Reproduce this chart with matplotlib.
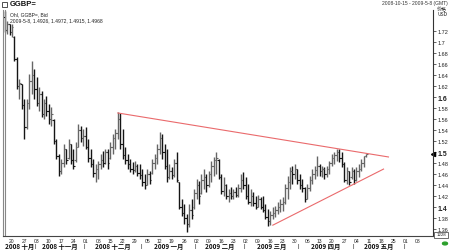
import numpy as np
import pandas as pd
import matplotlib
matplotlib.use('Agg')
import matplotlib.pyplot as plt
from matplotlib.transforms import blended_transform_factory

plt.rcParams['font.family'] = ['Liberation Sans', 'Noto Sans CJK SC', 'DejaVu Sans']

# ---------------- data ----------------
start_date = '2008-10-15'
end_date = '2009-05-08'

high = [1.756,1.738,1.733,1.733,1.711,1.673,1.633,1.624,1.596,1.596,
        1.642,1.665,1.651,1.636,1.618,1.611,1.596,1.602,1.587,1.582,
        1.560,1.524,1.496,1.487,1.514,1.505,1.524,1.515,1.505,1.518,
        1.551,1.547,1.542,1.545,1.524,1.505,1.487,1.478,1.484,1.496,
        1.502,1.505,1.505,1.518,1.533,1.542,1.573,1.571,1.542,1.509,
        1.496,1.487,1.482,1.484,1.478,1.478,1.469,1.460,1.469,1.465,
        1.487,1.496,1.514,1.536,1.533,1.514,1.505,1.478,1.473,1.487,
        1.500,1.445,1.414,1.405,1.387,1.405,1.414,1.433,1.451,1.447,
        1.460,1.469,1.460,1.465,1.484,1.491,1.500,1.487,1.460,1.455,
        1.442,1.433,1.436,1.433,1.436,1.442,1.460,1.464,1.455,1.442,
        1.433,1.427,1.420,1.422,1.418,1.420,1.405,1.396,1.393,1.400,
        1.402,1.409,1.415,1.418,1.442,1.456,1.473,1.475,1.478,1.469,
        1.460,1.451,1.436,1.442,1.456,1.469,1.475,1.493,1.478,1.475,
        1.473,1.475,1.484,1.496,1.500,1.505,1.505,1.500,1.482,1.473,
        1.465,1.473,1.469,1.473,1.478,1.487,1.493,1.4972]

low = [1.718,1.715,1.713,1.709,1.665,1.615,1.596,1.578,1.524,1.542,
       1.578,1.605,1.596,1.584,1.575,1.564,1.560,1.565,1.551,1.547,
       1.515,1.487,1.456,1.460,1.473,1.478,1.487,1.478,1.469,1.482,
       1.509,1.518,1.511,1.505,1.482,1.473,1.455,1.445,1.451,1.469,
       1.473,1.478,1.469,1.487,1.496,1.505,1.524,1.505,1.487,1.478,
       1.469,1.464,1.460,1.464,1.456,1.451,1.438,1.433,1.440,1.442,
       1.460,1.469,1.478,1.496,1.487,1.469,1.445,1.451,1.451,1.455,
       1.445,1.396,1.384,1.369,1.355,1.364,1.378,1.396,1.414,1.405,
       1.424,1.433,1.427,1.436,1.445,1.456,1.460,1.451,1.424,1.420,
       1.414,1.409,1.414,1.414,1.418,1.418,1.427,1.433,1.414,1.405,
       1.402,1.402,1.396,1.400,1.396,1.391,1.378,1.365,1.367,1.378,
       1.382,1.387,1.391,1.393,1.405,1.415,1.433,1.442,1.451,1.442,
       1.433,1.427,1.409,1.415,1.429,1.442,1.451,1.456,1.456,1.455,
       1.451,1.455,1.460,1.475,1.478,1.484,1.482,1.473,1.445,1.442,
       1.440,1.451,1.442,1.447,1.455,1.465,1.473,1.4915]

opens = [1.745,1.722,1.733,1.718,1.710,1.670,1.620,1.624,1.585,1.545,
         1.590,1.630,1.640,1.615,1.590,1.605,1.570,1.590,1.575,1.560,
         1.558,1.520,1.492,1.465,1.480,1.505,1.490,1.515,1.485,1.485,
         1.510,1.540,1.525,1.530,1.510,1.490,1.478,1.462,1.470,1.478,
         1.485,1.480,1.500,1.490,1.510,1.525,1.535,1.560,1.515,1.495,
         1.485,1.478,1.470,1.468,1.475,1.462,1.458,1.445,1.440,1.460,
         1.462,1.480,1.490,1.505,1.525,1.500,1.475,1.455,1.465,1.458,
         1.480,1.445,1.400,1.390,1.380,1.370,1.395,1.400,1.425,1.440,
         1.426,1.450,1.455,1.440,1.460,1.475,1.485,1.485,1.455,1.430,
         1.440,1.420,1.425,1.420,1.428,1.422,1.435,1.450,1.440,1.420,
         1.410,1.420,1.408,1.400,1.415,1.400,1.395,1.382,1.375,1.385,
         1.390,1.395,1.400,1.405,1.410,1.435,1.445,1.465,1.460,1.470,
         1.450,1.440,1.435,1.415,1.435,1.450,1.460,1.468,1.475,1.465,
         1.470,1.460,1.470,1.480,1.490,1.495,1.500,1.490,1.478,1.450,
         1.465,1.455,1.465,1.450,1.465,1.470,1.480,1.4926]

closes = [1.722,1.733,1.718,1.728,1.670,1.620,1.625,1.585,1.545,1.590,
          1.630,1.640,1.615,1.590,1.605,1.570,1.590,1.575,1.560,1.570,
          1.520,1.492,1.465,1.480,1.505,1.485,1.515,1.485,1.475,1.510,
          1.540,1.525,1.530,1.510,1.490,1.478,1.462,1.470,1.478,1.485,
          1.480,1.500,1.480,1.510,1.525,1.535,1.560,1.515,1.495,1.485,
          1.478,1.470,1.468,1.475,1.462,1.458,1.445,1.440,1.460,1.450,
          1.480,1.490,1.505,1.525,1.500,1.475,1.455,1.465,1.458,1.480,
          1.450,1.400,1.390,1.380,1.370,1.395,1.385,1.425,1.440,1.420,
          1.450,1.455,1.440,1.460,1.475,1.485,1.490,1.455,1.430,1.440,
          1.420,1.425,1.420,1.428,1.422,1.435,1.450,1.440,1.420,1.410,
          1.420,1.408,1.400,1.415,1.400,1.395,1.382,1.375,1.385,1.390,
          1.395,1.400,1.405,1.410,1.435,1.445,1.465,1.460,1.470,1.450,
          1.440,1.435,1.415,1.435,1.450,1.460,1.468,1.475,1.465,1.470,
          1.460,1.470,1.480,1.490,1.495,1.500,1.490,1.478,1.450,1.465,
          1.445,1.465,1.450,1.465,1.470,1.480,1.4926,1.4968]

# trend lines (date, price)
upper_dates = ['2008-12-18', '2009-05-21']
upper_prices = [1.571, 1.491]
lower_dates = ['2009-03-17', '2009-05-19']
lower_prices = [1.367, 1.469]

y_ticks = [1.36,1.38,1.40,1.42,1.44,1.46,1.48,1.50,1.52,1.54,1.56,1.58,
           1.60,1.62,1.64,1.66,1.68,1.70,1.72]
y_labels = ['1.36','1.38','1.4','1.42','1.44','1.46','1.48','1.5','1.52','1.54',
            '1.56','1.58','1.6','1.62','1.64','1.66','1.68','1.7','1.72']
month_labels = ['2008 十月','2008 十一月','2008 十二月','2009 一月',
                '2009 二月','2009 三月','2009 四月','2009 五月']
title = 'GGBP='
subtitle1 = 'Ohl, GGBP=, Bid'
subtitle2 = '2009-5-8, 1.4926, 1.4972, 1.4915, 1.4968'
range_text = '2008-10-15 - 2009-5-8 (GMT)'
axis_unit = '价格\nUSD'
box_text = '1228'

# ---------------- positions ----------------
def bpos(d):
    return float(np.busday_count(start_date, pd.Timestamp(d).strftime('%Y-%m-%d')))

n = len(high)
xs = np.arange(n)
o = np.array(opens); c = np.array(closes)
up = c >= o

W, H = 450, 251
fig = plt.figure(figsize=(W/100, H/100), dpi=100)
fig.patch.set_facecolor('white')
ax = fig.add_axes([3/W, 1-237/H, 430/W, 226/H])
ax.set_xlim(-0.65, 174.1)
ax.set_ylim(1.3473, 1.7582)

cols = np.where(up, '#666666', '#151515')
ax.vlines(xs, low, high, colors=cols, linewidth=1.0)
ax.hlines(o, xs-0.6, xs, colors=cols, linewidth=0.8)
ax.hlines(c, xs, xs+0.6, colors=cols, linewidth=0.8)

ax.plot([bpos(d) for d in upper_dates], upper_prices, color='#ea6a6c', lw=0.8)
ax.plot([bpos(d) for d in lower_dates], lower_prices, color='#ea6a6c', lw=0.8)

# spines
ax.spines['top'].set_visible(False)
ax.spines['left'].set_color('#888888'); ax.spines['left'].set_linewidth(0.8)
ax.spines['bottom'].set_color('#444444'); ax.spines['bottom'].set_linewidth(0.8)
ax.spines['right'].set_color('#333333'); ax.spines['right'].set_linewidth(0.8)
ax.axvline(-0.65 + 2/2.46, color='#888888', lw=0.8)

# y axis on right
ax.yaxis.tick_right()
ax.set_yticks(y_ticks)
ax.set_yticklabels(y_labels)
ax.tick_params(axis='y', which='both', length=2, width=0.5, pad=1.5,
               labelsize=4, colors='#222222', direction='out')
for lbl in ax.get_yticklabels():
    if lbl.get_text() in ('1.6', '1.4', '1.5'):
        lbl.set_fontweight('bold'); lbl.set_fontsize(5)
ax.plot([1.0], [closes[-1]], marker='<', color='black', markersize=3,
        transform=blended_transform_factory(ax.transAxes, ax.transData), clip_on=False)

# x ticks: weekly Mondays
mondays = pd.date_range('2008-10-20', '2009-06-08', freq='7D')
ax.set_xticks([bpos(d) for d in mondays])
ax.set_xticklabels([d.strftime('%d') for d in mondays])
ax.tick_params(axis='x', length=0, pad=1.2, labelsize=3.6, colors='#222222')

# month labels and separators
trans = blended_transform_factory(ax.transData, ax.transAxes)
month_starts = pd.date_range('2008-10-01', '2009-06-01', freq='MS')
for k, lab in enumerate(month_labels):
    a = max(bpos(month_starts[k]) - 0.5, -0.65)
    b = bpos(month_starts[k+1]) - 0.5
    ax.text((a+b)/2, -0.042, lab, transform=trans, ha='center', va='center',
            fontsize=4.6, fontweight='bold', color='#111111',
            family=['Noto Sans CJK SC', 'DejaVu Sans'])
for ms in month_starts[1:]:
    ax.text(bpos(ms) - 0.5, -0.042, '|', transform=trans, ha='center', va='center',
            fontsize=4, color='#111111')

# header
def ftext(px, py, s, **kw):
    fig.text(px/W, 1-py/H, s, **kw)

fig.patches.append(plt.Rectangle((2/W, 1-8/H), 5/W, 5/H, transform=fig.transFigure,
                                 fill=False, edgecolor='#333333', lw=0.6))
ftext(10, 5, title, fontsize=5.5, fontweight='bold', va='center', ha='left', color='#111111')
ftext(10, 15, subtitle1, fontsize=3.6, va='center', ha='left', color='#222222')
ftext(10, 21, subtitle2, fontsize=3.6, va='center', ha='left', color='#222222')
ftext(448, 4, range_text, fontsize=3.6, va='center', ha='right', color='#333333')
ftext(437, 12, axis_unit, fontsize=3.6, va='center', ha='left', color='#222222',
      family=['Noto Sans CJK SC', 'DejaVu Sans'], linespacing=1.1)

# bottom-right box and dot
fig.patches.append(plt.Rectangle((434/W, 1-238.5/H), 14/W, 6/H, transform=fig.transFigure,
                                 fill=False, edgecolor='#333333', lw=0.5))
ftext(441, 235.5, box_text, fontsize=3.2, va='center', ha='center', color='#222222')
fig.patches.append(matplotlib.patches.Circle((445/W, 1-244.5/H), 2.5/W, transform=fig.transFigure,
                                             color='#2ca02c'))

fig.savefig('out.png', dpi=100, facecolor='white')
